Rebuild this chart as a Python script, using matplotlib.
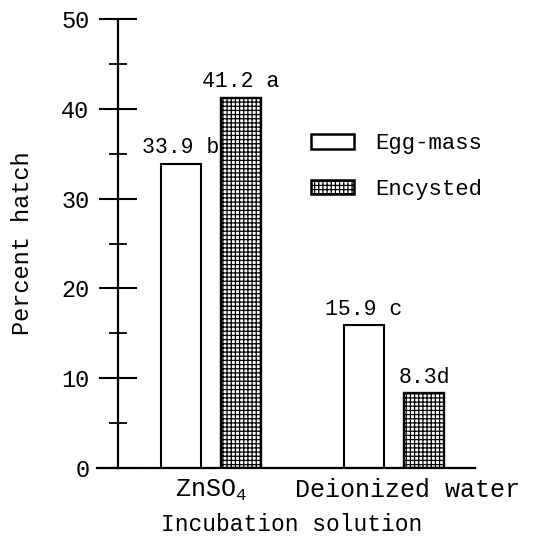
import numpy as np
import matplotlib
matplotlib.use("Agg")
import matplotlib.pyplot as plt
from matplotlib.patches import Patch

plt.rcParams['font.family'] = ['Liberation Mono', 'DejaVu Sans Mono']
plt.rcParams['mathtext.fontset'] = 'custom'
plt.rcParams['mathtext.rm'] = 'Liberation Mono'
plt.rcParams['mathtext.it'] = 'Liberation Mono'
plt.rcParams['hatch.linewidth'] = 0.9

solutions = ['ZnSO$_4$', 'Deionized water']
egg_mass = [33.9, 15.9]
encysted = [41.2, 8.3]
egg_labels = ['33.9 b', '15.9 c']
enc_labels = ['41.2 a', '8.3d']

fig = plt.figure(figsize=(5.36, 5.44), dpi=100)
ax = fig.add_axes([97 / 536, 76 / 544, 378 / 536, 449 / 544])

x = np.arange(len(solutions))
w = 0.22
off = 0.164

b1 = ax.bar(x - off, egg_mass, w, color='white', edgecolor='black', linewidth=1.5, label='Egg-mass')
b2 = ax.bar(x + off, encysted, w, color='white', edgecolor='black', linewidth=1.7,
            hatch='++++', label='Encysted')

for bars, labs in [(b1, egg_labels), (b2, enc_labels)]:
    for r, t in zip(bars, labs):
        ax.annotate(t, (r.get_x() + r.get_width() / 2, r.get_height()),
                    xytext=(0, 4), textcoords='offset points',
                    ha='center', va='bottom', fontsize=15.5)

ax.set_xlim(-0.623, 1.443)
ax.set_ylim(0, 50)

ax.spines['top'].set_visible(False)
ax.spines['right'].set_visible(False)
ax.spines['left'].set_position(('data', -0.508))
ax.spines['left'].set_linewidth(1.6)
ax.spines['bottom'].set_linewidth(1.6)

ax.set_yticks(np.arange(0, 51, 10))
ax.set_yticks(np.arange(5, 50, 10), minor=True)
ax.tick_params(axis='y', which='major', direction='inout', length=27, width=1.5,
               pad=7, labelsize=17)
ax.tick_params(axis='y', which='minor', direction='inout', length=13.5, width=1.3)

ax.set_xticks([x[0], x[1] + 0.074])
ax.set_xticklabels(solutions, fontsize=18)
ax.tick_params(axis='x', length=0, pad=7)

ax.set_xlabel('Incubation solution', fontsize=16.5, labelpad=7)
ax.xaxis.label.set_x(0.516)
ax.set_ylabel('Percent hatch', fontsize=17)
ax.yaxis.set_label_coords(-0.167, 0.5)

handles = [Patch(facecolor='white', edgecolor='black', linewidth=1.8),
           Patch(facecolor='white', edgecolor='black', linewidth=1.8, hatch='++++')]
ax.legend(handles, ['Egg-mass', 'Encysted'], loc='upper left',
          bbox_to_anchor=(0.514, 0.79), frameon=False, fontsize=16,
          handlelength=1.9, handleheight=0.65, labelspacing=1.1, handletextpad=1.0)

fig.savefig('out.png', dpi=100)
